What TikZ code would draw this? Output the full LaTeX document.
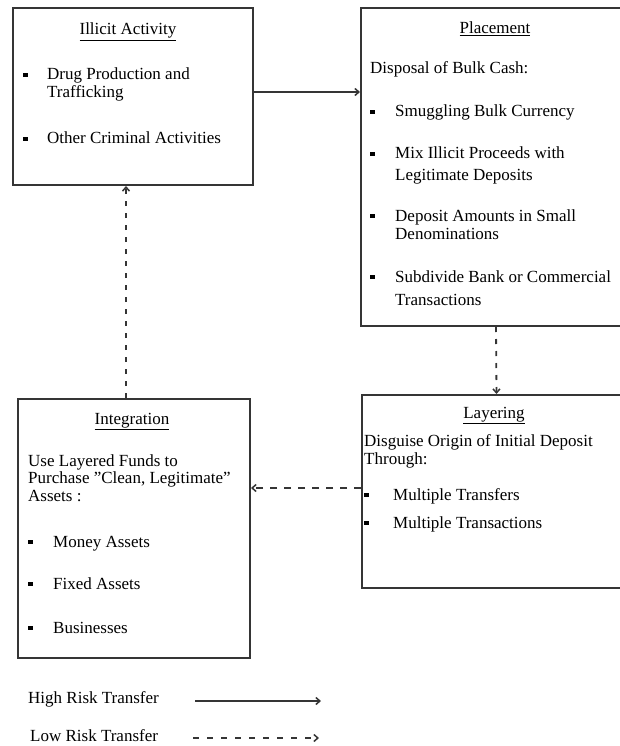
\documentclass[tikz,border=0pt]{standalone}
\usepackage{fontspec}
\setmainfont{Liberation Serif}
\usetikzlibrary{arrows.meta}
\definecolor{ln}{HTML}{353535}
\begin{document}
\begin{tikzpicture}[x=1pt,y=-1pt,
  box/.style={draw=ln, line width=2pt, rectangle, inner sep=0pt, anchor=north west},
  txt/.style={inner sep=0pt, anchor=base west, font=\fontsize{17}{18}\selectfont},
  ttl/.style={inner sep=0pt, anchor=base, font=\fontsize{17}{18}\selectfont},
  bul/.style={fill=black, inner sep=0pt, minimum size=4.5pt, anchor=center},
  tip/.style={-{Straight Barb[length=4pt,width=7pt,line width=1.5pt]}},
  hi/.style={draw=ln, line width=1.8pt, tip},
  lov/.style={draw=ln, line width=1.8pt, dash pattern=on 5pt off 7pt, tip},
  loh/.style={draw=ln, line width=1.8pt, dash pattern=on 7pt off 7pt, tip}]
\useasboundingbox (0,0) rectangle (619,746);

% boxes
\node[box, minimum width=240pt, minimum height=177pt] (illicit) at (12,7) {};
\node[box, minimum width=270pt, minimum height=318pt] (placement) at (360,7) {};
\node[box, minimum width=269pt, minimum height=193pt] (layering) at (361,394) {};
\node[box, minimum width=232pt, minimum height=259pt] (integration) at (17,398) {};

% Illicit Activity
\node[ttl] (t1) at (128,35) {\underline{Illicit Activity}};
\node[bul] (b1) at (25.5,75) {};
\node[txt] (t2) at (47,80) {Drug Production and};
\node[txt] (t3) at (47,98) {Trafficking};
\node[bul] (b2) at (25.5,139) {};
\node[txt] (t4) at (47,144) {Other Criminal Activities};

% Placement
\node[ttl] (p1) at (495,34) {\underline{Placement}};
\node[txt] (p2) at (370,74) {Disposal of Bulk Cash:};
\node[bul] (pb1) at (372.5,112) {};
\node[txt] (p3) at (395,117) {Smuggling Bulk Currency};
\node[bul] (pb2) at (372.5,154) {};
\node[txt] (p4) at (395,159) {Mix Illicit Proceeds with};
\node[txt] (p5) at (395,180) {Legitimate Deposits};
\node[bul] (pb3) at (372.5,216) {};
\node[txt] (p6) at (395,221) {Deposit Amounts in Small};
\node[txt] (p7) at (395,239) {Denominations};
\node[bul] (pb4) at (372.5,277) {};
\node[txt] (p8) at (395,282) {Subdivide Bank or Commercial};
\node[txt] (p9) at (395,305) {Transactions};

% Layering
\node[ttl] (l1) at (494,418) {\underline{Layering}};
\node[txt] (l2) at (364,446) {Disguise Origin of Initial Deposit};
\node[txt] (l3) at (364,464) {Through:};
\node[bul] (lb1) at (366.5,495) {};
\node[txt] (l4) at (393,500) {Multiple Transfers};
\node[bul] (lb2) at (366.5,523) {};
\node[txt] (l5) at (393,528) {Multiple Transactions};

% Integration
\node[ttl] (i1) at (132,424) {\underline{Integration}};
\node[txt] (i2) at (28,466) {Use Layered Funds to};
\node[txt] (i3) at (28,483) {Purchase \symbol{34}Clean, Legitimate\symbol{34}};
\node[txt] (i4) at (28,501) {Assets :};
\node[bul] (ib1) at (30.5,542) {};
\node[txt] (i5) at (53,547) {Money Assets};
\node[bul] (ib2) at (30.5,584) {};
\node[txt] (i6) at (53,589) {Fixed Assets};
\node[bul] (ib3) at (30.5,628) {};
\node[txt] (i7) at (53,633) {Businesses};

% connectors
\draw[hi] (illicit.east |- 0,92) -- (placement.west |- 0,92);
\draw[lov] (placement.south) -- (layering.north);
\draw[loh] (layering.west |- 0,488) -- (integration.east |- 0,488);
\draw[lov] (integration.north -| 126,0) -- (illicit.south -| 126,0);

% legend
\node[txt] (g1) at (28,703) {High Risk Transfer};
\node[txt] (g2) at (30,741) {Low Risk Transfer};
\coordinate (h1) at (195,701);
\coordinate (h2) at (321,701);
\coordinate (d1) at (193,738);
\coordinate (d2) at (319,738);
\draw[hi] (h1) -- (h2);
\draw[loh, dash pattern=on 6pt off 8pt] (d1) -- (d2);
\end{tikzpicture}
\end{document}
